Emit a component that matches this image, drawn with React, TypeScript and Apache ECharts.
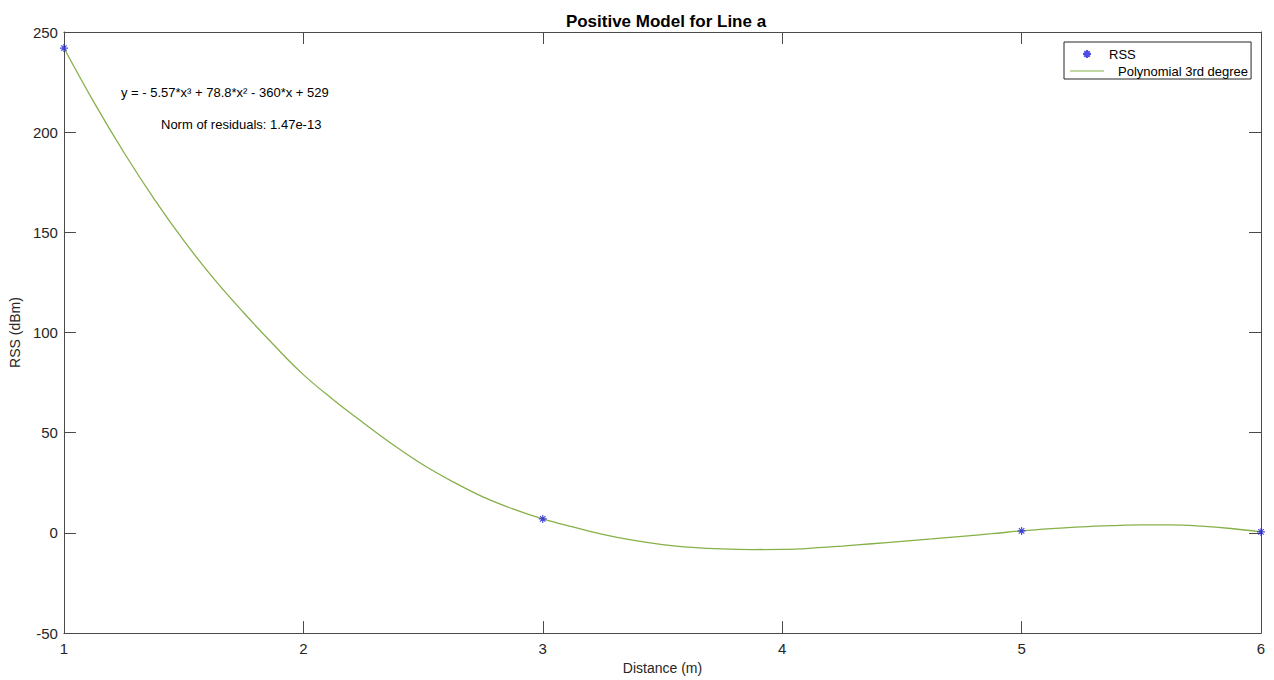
import React, { useEffect, useRef } from "react";
import * as echarts from "echarts";

const titleText = "Positive Model for Line a";
const xName = "Distance (m)";
const yName = "RSS (dBm)";
const rssName = "RSS";
const fitName = "Polynomial 3rd degree";
const equationText = "y = - 5.57*x³ + 78.8*x² - 360*x + 529";
const normText = "Norm of residuals: 1.47e-13";

const rssX = [1, 3, 5, 6];
const rssY = [242, 7, 1, 0.5];

const fitX = [
  1, 1.125, 1.25, 1.375, 1.5, 1.625, 1.75, 1.875, 2, 2.125, 2.25, 2.375, 2.5, 2.625, 2.75, 2.875,
  3, 3.125, 3.25, 3.375, 3.5, 3.625, 3.75, 3.875, 4, 4.125, 4.25, 4.375, 4.5, 4.625, 4.75, 4.875,
  5, 5.125, 5.25, 5.375, 5.5, 5.625, 5.75, 5.875, 6,
];
const fitY = [
  242, 215, 190, 167, 146, 127, 110, 94, 79, 66.5, 55, 44, 34, 25.5, 18, 12,
  7, 3, -0.7, -3.6, -5.8, -7.2, -8.0, -8.3, -8.2, -7.6, -6.6, -5.4, -4.2, -3.0, -1.7, -0.4,
  1, 2.1, 3.0, 3.6, 4.0, 4.0, 3.4, 2.2, 0.5,
];

const FONT = "'Liberation Sans', Arial, Helvetica, sans-serif";
const AXIS_COLOR = "#4a4a4a";
const TEXT_COLOR = "#262626";
const LINE_COLOR = "#86b04a";
const ASTERISK = "path://M5 0 L5 10 M0 5 L10 5 M1.6 1.6 L8.4 8.4 M8.4 1.6 L1.6 8.4";
const LINE_ICON = "path://M0 0 H34 V1.2 H0 Z";

export default function App() {
  const ref = useRef<HTMLDivElement>(null);
  useEffect(() => {
    if (!ref.current) return;
    const chart = echarts.init(ref.current, null, { renderer: "svg" });
    const axisCommon = {
      type: "value" as const,
      splitLine: { show: false },
      axisLine: { show: true, onZero: false, lineStyle: { color: AXIS_COLOR, width: 1 } },
      axisTick: { show: true, inside: true, length: 12, lineStyle: { color: AXIS_COLOR, width: 1 } },
    };
    chart.setOption({
      animation: false,
      backgroundColor: "#ffffff",
      textStyle: { fontFamily: FONT },
      title: {
        text: titleText,
        left: 661,
        textAlign: "center",
        top: 8,
        textStyle: { fontFamily: FONT, fontSize: 17, fontWeight: "bold", color: "#000" },
      },
      grid: { left: 62, right: 13, top: 32, bottom: 46, containLabel: false },
      legend: {
        orient: "vertical",
        left: 1064,
        top: 42,
        padding: [5, 3, 1, 6],
        itemGap: 3,
        itemWidth: 34,
        itemHeight: 8,
        borderColor: "#262626",
        borderWidth: 1,
        backgroundColor: "#ffffff",
        data: [
          { name: rssName, icon: ASTERISK },
          { name: fitName, icon: LINE_ICON, itemStyle: { color: LINE_COLOR } },
        ],
        formatter: (name: string) => (name === fitName ? "{p|" + name + "}" : name),
        textStyle: {
          fontFamily: FONT,
          fontSize: 13,
          lineHeight: 14,
          color: "#000",
          rich: {
            p: { fontFamily: FONT, fontSize: 13, lineHeight: 14, color: "#000", padding: [0, 0, 0, 9] },
          },
        },
      },
      xAxis: [
        {
          ...axisCommon,
          position: "bottom",
          min: 1,
          max: 6,
          interval: 1,
          name: xName,
          nameLocation: "middle",
          nameGap: 27,
          nameTextStyle: { fontFamily: FONT, fontSize: 14, color: TEXT_COLOR },
          axisLabel: { fontFamily: FONT, fontSize: 15, color: TEXT_COLOR, margin: 8 },
        },
        {
          ...axisCommon,
          position: "top",
          min: 1,
          max: 6,
          interval: 1,
          axisLabel: { show: false },
        },
      ],
      yAxis: [
        {
          ...axisCommon,
          position: "left",
          min: -50,
          max: 250,
          interval: 50,
          name: yName,
          nameLocation: "middle",
          nameGap: 37,
          nameTextStyle: { fontFamily: FONT, fontSize: 14, color: TEXT_COLOR },
          axisLabel: { fontFamily: FONT, fontSize: 15, color: TEXT_COLOR, margin: 6 },
        },
        {
          ...axisCommon,
          position: "right",
          min: -50,
          max: 250,
          interval: 50,
          axisLabel: { show: false },
        },
      ],
      graphic: [
        {
          type: "text",
          x: 121,
          y: 92,
          style: {
            text: equationText,
            fontFamily: FONT,
            fontSize: 13,
            fill: "#000",
            textVerticalAlign: "middle",
            verticalAlign: "middle",
          },
        },
        {
          type: "text",
          x: 161,
          y: 124,
          style: {
            text: normText,
            fontFamily: FONT,
            fontSize: 13,
            fill: "#000",
            textVerticalAlign: "middle",
            verticalAlign: "middle",
          },
        },
      ],
      series: [
        {
          name: fitName,
          type: "line",
          data: fitX.map((x, i) => [x, fitY[i]]),
          smooth: 0.4,
          symbol: "none",
          lineStyle: { color: LINE_COLOR, width: 1.3 },
          itemStyle: { color: LINE_COLOR },
          z: 2,
        },
        {
          name: rssName,
          type: "scatter",
          data: rssX.map((x, i) => [x, rssY[i]]),
          symbol: ASTERISK,
          symbolSize: 8,
          clip: false,
          itemStyle: { color: "rgba(0,0,0,0)", borderColor: "#2020e0", borderWidth: 1.2 },
          z: 3,
        },
      ],
    });
    return () => chart.dispose();
  }, []);
  return (
    <div
      ref={ref}
      style={{ position: "fixed", left: 0, top: 0, width: 1274, height: 680, background: "#fff" }}
    />
  );
}
